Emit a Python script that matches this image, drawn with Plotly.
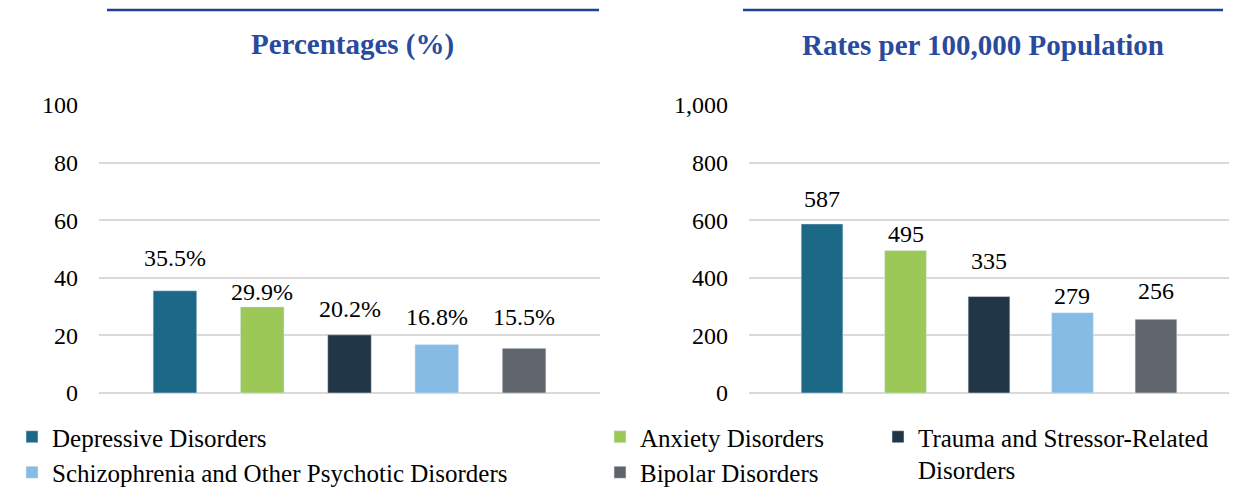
import plotly.graph_objects as go
from plotly.subplots import make_subplots

# disorder categories, in the order they are drawn
categories = ["Depressive Disorders", "Anxiety Disorders",
              "Trauma and Stressor-Related<br>Disorders",
              "Schizophrenia and Other Psychotic Disorders", "Bipolar Disorders"]
percentages = [35.5, 29.9, 20.2, 16.8, 15.5]
rates = [587, 495, 335, 279, 256]
pct_labels = ["35.5%", "29.9%", "20.2%", "16.8%", "15.5%"]
rate_labels = ["587", "495", "335", "279", "256"]
pct_ticks = [0, 20, 40, 60, 80, 100]
rate_ticks = [0, 200, 400, 600, 800, 1000]

colors = ["#1B6887", "#9BC857", "#213747", "#86BCE3", "#60656C"]
legend_of = ["legend", "legend2", "legend3", "legend", "legend2"]
# how far above the bar each value label sits (px), as in the source chart
pct_nudge = [18, 0, 11, 13, 16]
rate_nudge = [10, 1, 21, 2, 13]

# the page body has an 8px margin, so the figure starts at (8, 8)
OFF = 8
W, H = 1248 - OFF, 489 - OFF
FONT = "Liberation Serif, Times New Roman, serif"
BLUE = "#2A4A9E"


def px(x):
    return (x - OFF) / W


def py(y):
    return 1 - (y - OFF) / H


fig = make_subplots(rows=1, cols=2)

for i, cat in enumerate(categories):
    fig.add_trace(go.Bar(x=[i], y=[percentages[i]], name=cat, marker_color=colors[i],
                         width=0.5, legend=legend_of[i], showlegend=True),
                  row=1, col=1)
    fig.add_trace(go.Bar(x=[i], y=[rates[i]], name=cat, marker_color=colors[i],
                         width=0.5, showlegend=False),
                  row=1, col=2)

for i in range(len(categories)):
    fig.add_annotation(x=i, y=percentages[i], xref="x", yref="y", text=pct_labels[i],
                       showarrow=False, yanchor="bottom", yshift=pct_nudge[i],
                       font=dict(size=24, color="#000", family=FONT))
    fig.add_annotation(x=i, y=rates[i], xref="x2", yref="y2", text=rate_labels[i],
                       showarrow=False, yanchor="bottom", yshift=rate_nudge[i],
                       font=dict(size=24, color="#000", family=FONT))

# panel titles and the rule above them
for (x0, x1), title in [((107, 599), "Percentages (%)"),
                        ((743, 1223), "Rates per 100,000 Population")]:
    fig.add_shape(type="line", xref="paper", yref="paper",
                  x0=px(x0), x1=px(x1), y0=py(10), y1=py(10),
                  line=dict(color="#1F3F99", width=2.5))
    fig.add_annotation(xref="paper", yref="paper", x=px((x0 + x1) / 2), y=py(45),
                       text="<b>" + title + "</b>", showarrow=False,
                       xanchor="center", yanchor="middle",
                       font=dict(size=29, color=BLUE, family=FONT))

ydom = [py(393), py(105)]
leg = dict(yanchor="top", xanchor="left", font=dict(size=25), tracegroupgap=0,
           bgcolor="rgba(0,0,0,0)", y=py(414))
fig.update_layout(
    width=W, height=H,
    margin=dict(l=0, r=0, t=0, b=0, autoexpand=False),
    paper_bgcolor="white", plot_bgcolor="white",
    barmode="overlay",
    font=dict(family=FONT, color="#000"),
    xaxis=dict(domain=[px(99), px(600)], range=[-0.87, 4.87], showticklabels=False,
               showgrid=False, zeroline=False, ticks=""),
    xaxis2=dict(domain=[px(749), px(1229)], range=[-0.875, 4.875], showticklabels=False,
                showgrid=False, zeroline=False, ticks=""),
    yaxis=dict(domain=ydom, range=[0, 100], tickvals=pct_ticks,
               showgrid=True, gridcolor="#D9D9D9", gridwidth=1.5,
               zeroline=True, zerolinecolor="#D9D9D9", zerolinewidth=1.5,
               tickfont=dict(size=24), ticklabelstandoff=20),
    yaxis2=dict(domain=ydom, range=[0, 1000], tickvals=rate_ticks, tickformat=",d",
                showgrid=True, gridcolor="#D9D9D9", gridwidth=1.5,
                zeroline=True, zerolinecolor="#D9D9D9", zerolinewidth=1.5,
                tickfont=dict(size=24), ticklabelstandoff=20),
    legend=dict(leg, x=px(12)),
    legend2=dict(leg, x=px(600)),
    legend3=dict(leg, x=px(878), valign="top"),
)

fig.write_html("out.html")
